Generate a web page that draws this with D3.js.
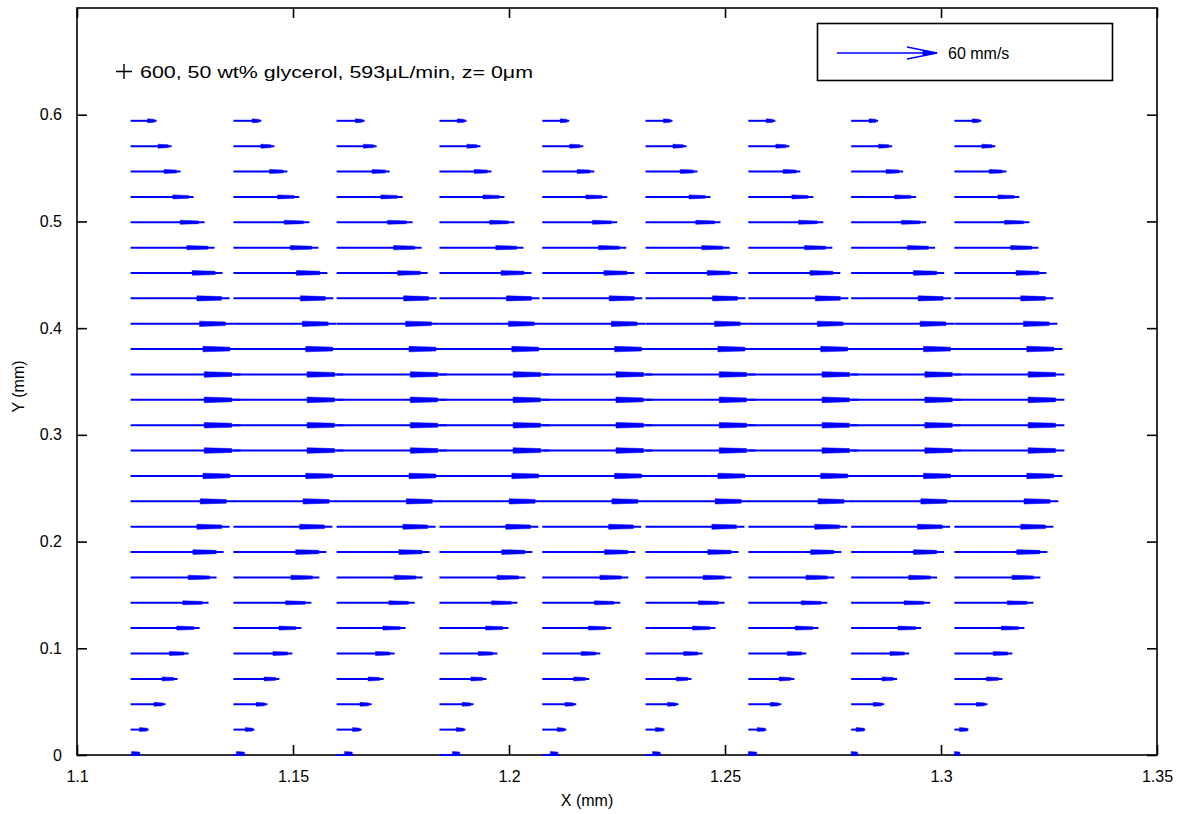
<!DOCTYPE html>
<html><head><meta charset="utf-8">
<script src="https://cdn.jsdelivr.net/npm/d3@7"></script>
<style>
html,body{margin:0;padding:0;background:#fff;}
svg{display:block;font-family:"Liberation Sans",Arial,sans-serif;}
</style></head>
<body>
<svg id="chart" width="1189" height="814"></svg>
<script>
// ---- data ----
const xTicks = [1.1, 1.15, 1.2, 1.25, 1.3, 1.35];
const yTicks = [0, 0.1, 0.2, 0.3, 0.4, 0.5, 0.6];
const xTickLabels = ["1.1", "1.15", "1.2", "1.25", "1.3", "1.35"];
const yTickLabels = ["0", "0.1", "0.2", "0.3", "0.4", "0.5", "0.6"];
// grid positions (mm)
const gridX = [1.1124, 1.1362, 1.1601, 1.1839, 1.2077, 1.2316, 1.2554, 1.2792, 1.3031];
const gridY = [0, 0.0238, 0.0475, 0.0713, 0.0951, 0.1189, 0.1426, 0.1664, 0.1902, 0.2139,
               0.2377, 0.2615, 0.2853, 0.3090, 0.3328, 0.3566, 0.3804, 0.4041, 0.4279, 0.4517,
               0.4754, 0.4992, 0.5230, 0.5468, 0.5705, 0.5943];
// horizontal velocity u (mm/s), one row per gridY, one value per gridX column
const speedU = [
  [6.0, 7.2, 10.2, 13.2, 10.2, 9.6, 5.4, 4.2, 3.6],
  [10.8, 12.6, 15.0, 15.6, 14.4, 11.4, 10.8, 8.4, 8.4],
  [21.0, 20.4, 21.0, 20.4, 20.4, 19.8, 19.8, 19.8, 19.8],
  [28.2, 27.6, 28.2, 28.2, 28.2, 27.6, 27.6, 27.6, 28.8],
  [34.8, 35.4, 34.8, 34.8, 34.8, 34.2, 34.8, 34.8, 34.8],
  [41.4, 40.8, 41.4, 41.4, 41.4, 42.0, 42.0, 42.0, 42.0],
  [46.8, 46.8, 46.8, 46.8, 46.8, 47.4, 47.4, 47.4, 47.4],
  [51.6, 51.6, 51.6, 51.6, 51.6, 51.6, 51.6, 51.6, 51.6],
  [55.8, 55.8, 55.8, 55.8, 55.8, 55.8, 55.8, 55.8, 55.8],
  [59.4, 59.4, 59.4, 59.4, 59.4, 59.4, 59.4, 59.4, 59.4],
  [62.4, 62.4, 62.4, 62.4, 62.4, 62.4, 62.4, 62.4, 62.4],
  [64.8, 64.8, 64.8, 64.8, 64.8, 64.8, 64.8, 64.8, 64.8],
  [66.0, 66.0, 66.0, 66.0, 66.0, 66.0, 66.0, 66.0, 66.0],
  [66.0, 66.0, 66.0, 66.0, 66.0, 66.0, 66.0, 66.0, 66.0],
  [66.0, 66.0, 66.0, 66.0, 66.0, 66.0, 66.0, 66.0, 66.0],
  [66.0, 66.0, 66.0, 66.0, 66.0, 66.0, 66.0, 66.0, 66.0],
  [64.8, 64.8, 64.8, 64.8, 64.8, 64.8, 64.8, 64.8, 64.8],
  [61.8, 61.8, 61.8, 61.8, 61.8, 61.8, 61.8, 61.8, 61.8],
  [59.4, 60.0, 60.0, 60.0, 60.0, 60.0, 60.0, 60.0, 59.4],
  [55.2, 56.4, 54.6, 55.2, 55.2, 55.2, 55.2, 55.8, 55.2],
  [50.4, 51.0, 51.0, 50.4, 50.4, 50.4, 50.4, 50.4, 50.4],
  [44.4, 45.6, 45.6, 45.0, 45.0, 45.0, 45.0, 45.0, 45.0],
  [37.8, 39.6, 39.6, 39.0, 39.0, 39.0, 39.0, 39.0, 39.0],
  [30.0, 32.4, 31.8, 31.2, 31.2, 31.2, 31.2, 31.2, 31.2],
  [24.6, 24.6, 24.0, 24.6, 24.6, 24.6, 24.6, 24.6, 24.6],
  [15.6, 16.8, 16.8, 16.2, 16.2, 16.2, 16.2, 16.2, 16.2]
];
const legendSpeed = 60;          // mm/s
const legendLabel = "60 mm/s";
const annotation = "600, 50 wt% glycerol, 593\u03bcL/min, z= 0\u03bcm";
const xLabel = "X (mm)";
const yLabel = "Y (mm)";

(function () {
const svg = d3.select("#chart");
const pl = 77, pr = 1157, pt = 8, pb = 755;
const x = d3.scaleLinear().domain([1.1, 1.35]).range([pl, pr]);
const y = d3.scaleLinear().domain([0, 0.7]).range([pb, pt]);
const k = 0.02315 / legendSpeed;   // plot mm per mm/s
const alpha = 0.33, beta = 0.33;
const blue = "#0000ff";

const axisG = svg.append("g");
axisG.append("rect").attr("x", pl).attr("y", pt).attr("width", pr - pl).attr("height", pb - pt)
  .attr("fill", "none").attr("stroke", "#000").attr("stroke-width", 1.6);
const tl = 10;
const axB = d3.axisBottom(x).tickValues(xTicks).tickFormat((d, i) => xTickLabels[i]).tickSize(-tl).tickPadding(tl + 6);
const axT = d3.axisTop(x).tickValues(xTicks).tickFormat("").tickSize(-tl);
const axL = d3.axisLeft(y).tickValues(yTicks).tickFormat((d, i) => yTickLabels[i]).tickSize(-tl).tickPadding(tl + 5);
const axR = d3.axisRight(y).tickValues(yTicks).tickFormat("").tickSize(-tl);
[[axB, `translate(0,${pb})`], [axT, `translate(0,${pt})`], [axL, `translate(${pl},0)`], [axR, `translate(${pr},0)`]]
  .forEach(([ax, tr]) => {
    const a = axisG.append("g").attr("transform", tr).call(ax);
    a.select(".domain").remove();
    a.selectAll(".tick line").attr("stroke", "#000").attr("stroke-width", 1.6);
    a.selectAll(".tick text").attr("font-size", 16).attr("fill", "#000").attr("font-family", "Liberation Sans, Arial, sans-serif");
  });

const g = svg.append("g");
const arrows = [];
gridY.forEach((yy, i) => gridX.forEach((xx, j) => arrows.push({x: xx, y: yy, u: speedU[i][j] * k})));

g.selectAll("line.shaft").data(arrows).join("line")
  .attr("class", "shaft")
  .attr("x1", d => x(d.x)).attr("y1", d => y(d.y))
  .attr("x2", d => x(d.x + d.u)).attr("y2", d => y(d.y))
  .attr("stroke", blue).attr("stroke-width", 2);

// flattened arrow heads (appear as solid blocks behind the tip)
g.selectAll("path.head").data(arrows).join("path")
  .attr("class", "head")
  .attr("d", d => {
    const tipPx = x(d.x + d.u), lenPx = tipPx - x(d.x);
    const headPx = Math.max(alpha * lenPx, Math.min(lenPx, 9));
    const bx = tipPx - headPx, fx = tipPx - 0.08 * lenPx;
    const cy = y(d.y) - (d.y === 0 ? 1.5 : 0);
    const h = Math.max(2, Math.abs(y(d.y + alpha * beta * d.u) - y(d.y)) * 0.95);
    return `M${bx},${cy - h}L${fx},${cy - h * 0.7}L${fx},${cy + h * 0.7}L${bx},${cy + h}Z`;
  })
  .attr("fill", blue).attr("stroke", blue).attr("stroke-width", 0.5);

svg.append("text").attr("x", (pl + pr) / 2 - 30).attr("y", 806).attr("text-anchor", "middle")
  .attr("font-size", 16).text(xLabel);
svg.append("text").attr("transform", `translate(24,${(pt + pb) / 2 + 5}) rotate(-90)`).attr("text-anchor", "middle")
  .attr("font-size", 16).text(yLabel);

svg.append("path").attr("d", "M116,71.5H132M124,64V79").attr("stroke", "#000").attr("stroke-width", 1.4);
svg.append("text").attr("x", 140).attr("y", 78).attr("font-size", 16)
  .attr("textLength", 393).attr("lengthAdjust", "spacingAndGlyphs").text(annotation);

const lg = svg.append("g");
lg.append("rect").attr("x", 817.5).attr("y", 23.5).attr("width", 295).attr("height", 57)
  .attr("fill", "#fff").attr("stroke", "#000").attr("stroke-width", 1.6);
const lx0 = 837, lx1 = 937, ly = 53;
lg.append("line").attr("x1", lx0).attr("y1", ly).attr("x2", lx1).attr("y2", ly).attr("stroke", blue).attr("stroke-width", 1.6);
lg.append("path").attr("d", `M${lx1 - 30},${ly - 6}L${lx1},${ly}L${lx1 - 30},${ly + 6}`)
  .attr("fill", "none").attr("stroke", blue).attr("stroke-width", 1.4);
lg.append("path").attr("d", `M${lx1 - 14},${ly - 2.5}L${lx1},${ly}L${lx1 - 14},${ly + 2.5}Z`)
  .attr("fill", blue).attr("stroke", blue).attr("stroke-width", 1);
lg.append("text").attr("x", 948).attr("y", 59).attr("font-size", 16).text(legendLabel);
})();
</script>
</body></html>
